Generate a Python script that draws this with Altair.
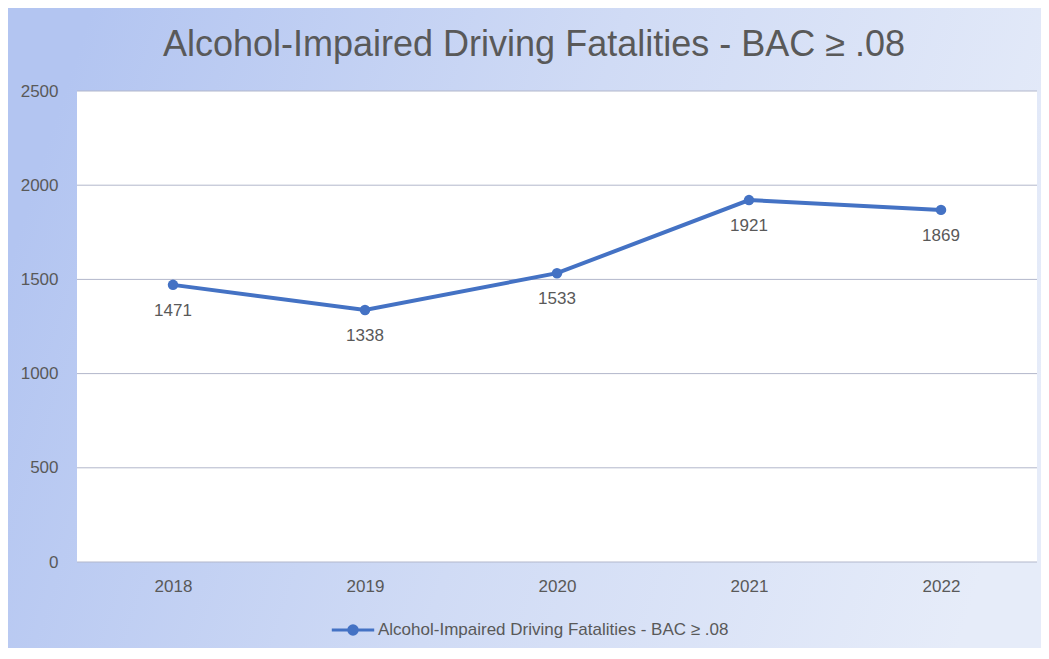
import altair as alt
import pandas as pd

years = ["2018", "2019", "2020", "2021", "2022"]
fatalities = [1471, 1338, 1533, 1921, 1869]
series_name = "Alcohol-Impaired Driving Fatalities - BAC \u2265 .08"
title_text = "Alcohol-Impaired Driving Fatalities  - BAC \u2265 .08"
grid_values = [0, 500, 1000, 1500, 2000, 2500]

W, H = 960, 471
PAD = {"left": 69, "top": 83, "right": 4, "bottom": 86}

df = pd.DataFrame({"year": years, "value": fatalities, "series": [series_name] * len(years)})
grid_df = pd.DataFrame({"value": grid_values})
one = pd.DataFrame({"k": [0]})

TXT = "#595959"
BLUE = "#4472C4"
FONT = "Liberation Sans"

bg = alt.Chart(one).mark_rect(
    color=alt.LinearGradient(
        gradient="linear",
        stops=[alt.GradientStop(color="#b3c5f1", offset=0),
               alt.GradientStop(color="#d0dbf5", offset=0.5),
               alt.GradientStop(color="#e6ecf9", offset=1)],
        x1=0, x2=1, y1=0.4, y2=0.6),
).encode(x=alt.value(-PAD["left"]), x2=alt.value(W + PAD["right"]),
         y=alt.value(-PAD["top"]), y2=alt.value(H + PAD["bottom"]))

plotbg = alt.Chart(one).mark_rect(color="white").encode(
    x=alt.value(0), x2=alt.value(W), y=alt.value(0), y2=alt.value(H))

title = alt.Chart(one).mark_text(
    text=title_text, font=FONT, fontSize=36, color=TXT, align="center", baseline="middle"
).encode(x=alt.value(457), y=alt.value(-46))

yscale = alt.Scale(domain=[0, 2500])
yaxis = alt.Axis(values=grid_values, format="d", domain=False, ticks=False, grid=False,
                 labelPadding=19, labelFontSize=17, labelColor=TXT, labelFont=FONT,
                 zindex=1)

grid = alt.Chart(grid_df).mark_rule(color="#b2b7cb", strokeWidth=1).encode(
    y=alt.Y("value:Q", scale=yscale, axis=yaxis, title=None))

base = alt.Chart(df).encode(
    x=alt.X("year:N", sort=years, title=None,
            scale=alt.Scale(paddingInner=0, paddingOuter=0.5),
            axis=alt.Axis(labelAngle=0, domain=False, ticks=False, labelPadding=16,
                          labelFontSize=17, labelColor=TXT, labelFont=FONT, zindex=1)),
    y=alt.Y("value:Q", scale=yscale, title=None, axis=yaxis),
)

legend_path = "M-1,0L1,0M-0.2,0A0.2,0.2 0 1,0 0.2,0A0.2,0.2 0 1,0 -0.2,0Z"

line = base.mark_line(color=BLUE, strokeWidth=4).encode(
    color=alt.Color("series:N", scale=alt.Scale(range=[BLUE]), title=None,
                    legend=alt.Legend(orient="none", legendX=253, legendY=516,
                                      symbolType=legend_path, symbolSize=1800,
                                      symbolStrokeWidth=3, symbolFillColor=BLUE,
                                      symbolStrokeColor=BLUE, labelFontSize=17,
                                      labelColor=TXT, labelFont=FONT, labelOffset=2,
                                      labelLimit=600, symbolOffset=0, padding=0,
                                      zindex=1))
)
points = base.mark_circle(color=BLUE, size=110, opacity=1)
labels = base.mark_text(fontSize=17, color=TXT, dy=26, baseline="middle", font=FONT).encode(
    text="value:Q")

chart = alt.layer(bg, plotbg, title, grid, line, points, labels).properties(
    width=W, height=H, padding=PAD,
    autosize=alt.AutoSizeParams(type="none"),
).configure_view(stroke=None).configure(background="white")

chart.save("out.html", embed_options={"renderer": "svg", "actions": False})
